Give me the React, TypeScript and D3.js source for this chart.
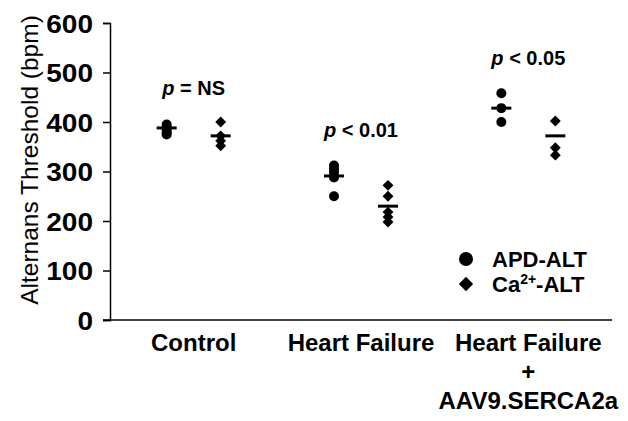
import React, { useEffect, useRef } from 'react';
import * as d3 from 'd3';

// groups along the x axis (label lines)
const groups = ['Control', 'Heart Failure', 'Heart Failure + AAV9.SERCA2a'];
const groupLines = [['Control'], ['Heart Failure'], ['Heart Failure', '+', 'AAV9.SERCA2a']];
const series = ['APD-ALT', 'Ca2+-ALT'];

// individual animals (bpm)
const apdValues = [
  [395, 390, 384, 378, 375],
  [312, 305, 298, 288, 250],
  [458, 428, 400],
];
const caValues = [
  [400, 372, 362, 352],
  [272, 250, 218, 208, 198],
  [402, 348, 333],
];
// group means (horizontal bars)
const apdMeans = [388, 291, 428];
const caMeans = [372, 230, 372];

const pLabels = [['=', 'NS'], ['<', '0.01'], ['<', '0.05']];
const pHeights = [455, 370, 515];

const yTicks = [0, 100, 200, 300, 400, 500, 600];

const W = 628;
const H = 421;
const FONT = 'Liberation Sans, Arial, sans-serif';

function App() {
  const svgRef = useRef<SVGSVGElement>(null);

  useEffect(() => {
    const svg = d3.select(svgRef.current);
    svg.selectAll('*').remove();

    const left = 110;
    const right = 612;
    const top = 23;
    const bottom = 320;

    const x = d3.scaleBand().domain(groups).range([left, right]).padding(0);
    const inner = d3.scalePoint().domain(series).range([-27, 27]);
    const y = d3.scaleLinear().domain([0, 600]).range([bottom, top]);

    const cx = (g: string) => (x(g) as number) + x.bandwidth() / 2;

    // y axis
    const yAxis = svg.append('g').attr('transform', `translate(${left},0)`)
      .call(d3.axisLeft(y).tickValues(yTicks).tickSize(7).tickPadding(7));
    yAxis.select('.domain').attr('stroke', '#000').attr('stroke-width', 1.5);
    yAxis.selectAll('.tick line').attr('stroke', '#000').attr('stroke-width', 1.5);
    yAxis.selectAll('.tick text')
      .attr('font-family', FONT).attr('font-size', 25).attr('font-weight', 'bold')
      .attr('fill', '#000').attr('dy', '0.36em')
      .attr('transform', 'scale(1.12,1)')
      .attr('x', -17 / 1.12);

    // x axis line
    svg.append('line')
      .attr('x1', left - 7).attr('x2', right)
      .attr('y1', y(0)).attr('y2', y(0))
      .attr('stroke', '#000').attr('stroke-width', 1.5);

    // y title
    svg.append('text')
      .attr('transform', `translate(38,160) rotate(-90)`)
      .attr('text-anchor', 'middle')
      .attr('font-family', FONT).attr('font-size', 24.5)
      .text('Alternans Threshold (bpm)');

    // x labels
    groups.forEach((g, i) => {
      groupLines[i].forEach((line, j) => {
        svg.append('text')
          .attr('x', cx(g)).attr('y', 351 + j * 29)
          .attr('text-anchor', 'middle')
          .attr('font-family', FONT).attr('font-size', 24).attr('font-weight', 'bold')
          .text(line);
      });
    });

    const diamond = d3.symbol().type(d3.symbolDiamond2).size(75);

    groups.forEach((g, i) => {
      const xa = cx(g) + (inner('APD-ALT') as number);
      const xc = cx(g) + (inner('Ca2+-ALT') as number);

      apdValues[i].forEach(v => {
        svg.append('circle').attr('cx', xa).attr('cy', y(v)).attr('r', 5).attr('fill', '#000');
      });
      caValues[i].forEach(v => {
        svg.append('path').attr('d', diamond()).attr('transform', `translate(${xc},${y(v)})`)
          .attr('fill', '#000');
      });

      // mean bars
      [[xa, apdMeans[i]], [xc, caMeans[i]]].forEach(([px, m]) => {
        svg.append('line')
          .attr('x1', px - 10).attr('x2', px + 10)
          .attr('y1', y(m)).attr('y2', y(m))
          .attr('stroke', '#000').attr('stroke-width', 3);
      });

      // p value
      const t = svg.append('text')
        .attr('x', cx(g)).attr('y', y(pHeights[i]))
        .attr('text-anchor', 'middle')
        .attr('font-family', FONT).attr('font-size', 20).attr('font-weight', 'bold');
      t.append('tspan').attr('font-style', 'italic').text('p');
      t.append('tspan').text(` ${pLabels[i][0]} ${pLabels[i][1]}`);
    });

    // legend
    const lx = 466;
    svg.append('circle').attr('cx', lx).attr('cy', 259).attr('r', 7).attr('fill', '#000');
    svg.append('path').attr('d', d3.symbol().type(d3.symbolDiamond2).size(130)())
      .attr('transform', `translate(${lx},284)`).attr('fill', '#000');
    svg.append('text').attr('x', 492).attr('y', 267)
      .attr('font-family', FONT).attr('font-size', 22).attr('font-weight', 'bold')
      .text('APD-ALT');
    const ca = svg.append('text').attr('x', 492).attr('y', 292)
      .attr('font-family', FONT).attr('font-size', 22).attr('font-weight', 'bold');
    ca.append('tspan').text('Ca');
    ca.append('tspan').attr('font-size', 14).attr('dy', -8).text('2+');
    ca.append('tspan').attr('dy', 8).text('-ALT');
  }, []);

  return (
    <svg
      ref={svgRef}
      width={W}
      height={H}
      style={{ position: 'absolute', left: 0, top: 0, background: '#fff' }}
    />
  );
}

export default App;
